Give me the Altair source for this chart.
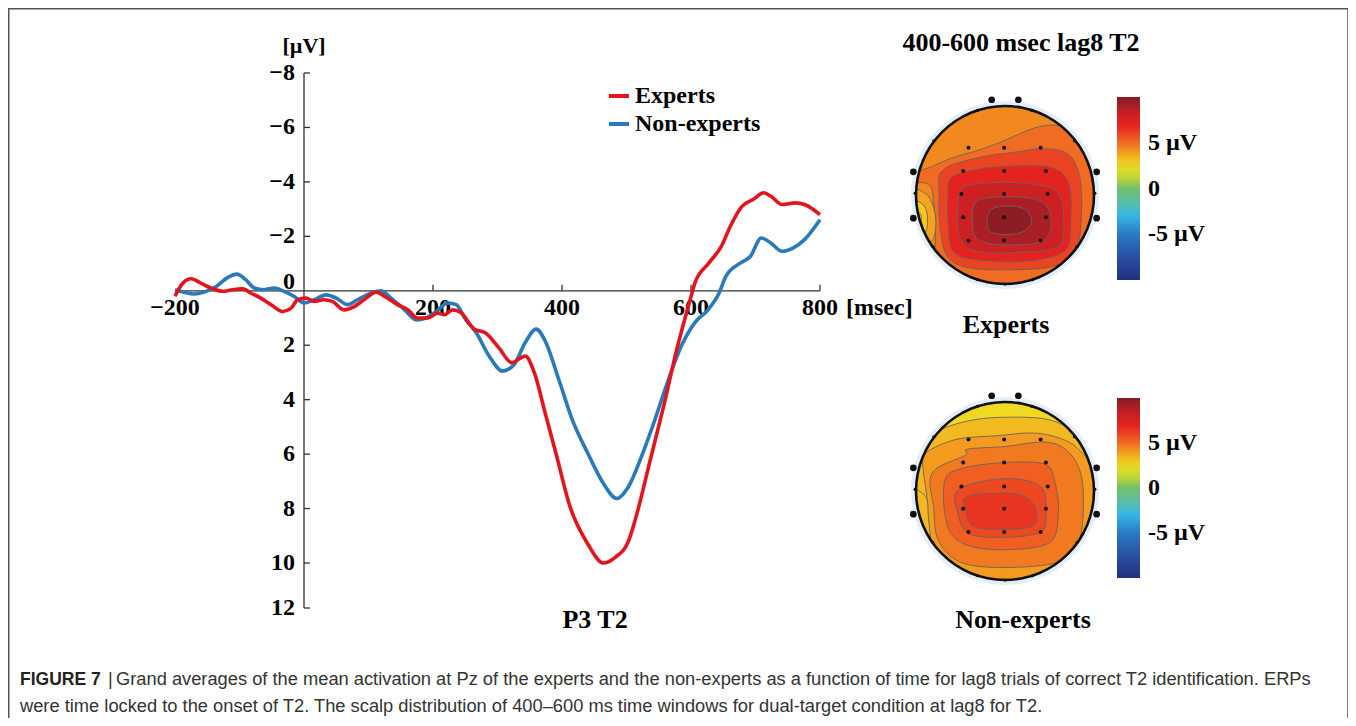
import altair as alt
import numpy as np
import pandas as pd

# ---------------- ERP data ----------------
red_t = [-200, -188, -175, -160, -144, -126, -111, -95, -82, -67, -51, -33, -20, -10, 3, 16, 31, 44, 62, 78,
         93, 112, 125, 145, 161, 176, 192, 207, 218, 230, 243, 264, 281, 302, 322, 343, 357, 374, 392, 412,
         440, 464, 482, 503, 516, 537, 558, 578, 599, 606, 627, 647, 661, 679, 696, 713, 724, 741, 762, 776, 800]
red_v = [0.2, -0.28, -0.44, -0.28, -0.1, 0.02, -0.04, -0.07, 0.09, 0.27, 0.51, 0.76, 0.64, 0.33, 0.27, 0.39,
         0.33, 0.39, 0.7, 0.58, 0.33, 0.05, 0.21, 0.51, 0.7, 1.0, 1.0, 0.82, 0.88, 0.7, 0.8, 1.41, 1.54, 2.09,
         2.64, 2.4, 3.0, 4.5, 6.1, 7.9, 9.3, 10.0, 9.8, 9.2, 8.2, 6.2, 4.2, 2.15, 0.3, -0.28, -1.0, -1.63,
         -2.37, -3.1, -3.35, -3.6, -3.47, -3.17, -3.23, -3.17, -2.8]
blue_t = [-200, -186, -170, -155, -136, -118, -104, -90, -77, -62, -46, -31, -15, 0, 16, 34, 50, 68, 83, 104,
          119, 135, 156, 174, 189, 205, 223, 236, 251, 267, 287, 308, 326, 343, 360, 374, 395, 416, 440, 464,
          485, 503, 523, 544, 565, 585, 606, 627, 644, 654, 675, 692, 709, 724, 741, 758, 776, 800]
blue_v = [-0.04, 0.05, 0.12, 0.05, -0.16, -0.49, -0.61, -0.4, -0.1, -0.04, -0.1, 0.02, 0.21, 0.45, 0.33, 0.15,
          0.27, 0.51, 0.33, 0.09, 0.0, 0.27, 0.7, 1.07, 1.0, 0.76, 0.45, 0.51, 1.07, 1.54, 2.4, 2.95, 2.7, 1.9,
          1.41, 1.85, 3.26, 4.74, 5.97, 7.07, 7.63, 7.2, 6.1, 4.74, 3.26, 2.03, 1.17, 0.68, 0.06, -0.53, -1.0,
          -1.26, -1.94, -1.75, -1.45, -1.57, -1.88, -2.61]

series_names = ["Experts", "Non-experts"]
series_colors = ["#e3141c", "#2a7ab9"]

x_extent = [-200, 800]
y_extent = [-8, 12]
y_ticks = [-8, -6, -4, -2, 2, 4, 6, 8, 10, 12]
y_tick_labels = ["\u22128", "\u22126", "\u22124", "\u22122", "2", "4", "6", "8", "10", "12"]
x_ticks = [-200, 200, 400, 600, 800]
x_tick_labels = ["\u2212200", "200", "400", "600", "800"]

# ---------------- Topomap data: contour bands (µV level, outline in head units) ----------------
exp_base = 4.4
exp_band_vals = [5.0, 6.0, 7.0, 8.0, 9.0, 9.7, 3.8, 3.0, 2.3]
exp_band_rings = [
    [[-1.15, 0.3], [-0.94, 0.28], [-0.61, 0.41], [-0.31, 0.5], [-0.06, 0.59], [0.17, 0.69], [0.39, 0.77],
     [0.61, 0.78], [0.83, 0.7], [0.96, 0.61], [1.1, 0.55], [1.15, 0.1], [1.05, -0.5], [0.75, -0.9],
     [0.3, -1.12], [-0.3, -1.12], [-0.68, -0.9], [-0.78, -0.72], [-0.78, -0.4], [-0.8, -0.1],
     [-0.86, 0.12], [-1.15, 0.15]],
    [[-0.7, 0.28], [-0.3, 0.42], [0.1, 0.48], [0.45, 0.52], [0.72, 0.45], [0.84, 0.2], [0.86, -0.2],
     [0.8, -0.6], [0.55, -0.8], [0.0, -0.84], [-0.45, -0.81], [-0.66, -0.67], [-0.73, -0.35], [-0.74, 0.0]],
    [[-0.6, 0.2], [-0.25, 0.3], [0.2, 0.33], [0.55, 0.3], [0.72, 0.12], [0.74, -0.3], [0.68, -0.62],
     [0.3, -0.74], [-0.2, -0.74], [-0.57, -0.65], [-0.64, -0.3], [-0.64, 0.0]],
    [[-0.47, 0.08], [-0.1, 0.14], [0.32, 0.12], [0.6, 0.02], [0.66, -0.3], [0.6, -0.58], [0.2, -0.64],
     [-0.28, -0.64], [-0.5, -0.5], [-0.53, -0.18]],
    [[-0.3, -0.06], [0.1, -0.02], [0.42, -0.08], [0.52, -0.3], [0.42, -0.52], [0.0, -0.56], [-0.3, -0.5],
     [-0.37, -0.28]],
    [[-0.15, -0.16], [0.18, -0.14], [0.3, -0.3], [0.15, -0.43], [-0.17, -0.41]],
    [[-1.15, 0.05], [-0.9, 0.02], [-0.8, -0.15], [-0.78, -0.38], [-0.86, -0.55], [-1.15, -0.6]],
    [[-1.15, -0.06], [-0.93, -0.1], [-0.87, -0.27], [-0.92, -0.45], [-1.15, -0.48]],
    [[-1.15, -0.15], [-0.97, -0.19], [-0.94, -0.29], [-0.98, -0.39], [-1.15, -0.4]],
]
non_base = 2.6
non_band_vals = [3.3, 4.0, 4.7, 5.3, 5.9, 6.5, 3.3]
non_band_rings = [
    [[-1.15, 0.45], [-0.75, 0.68], [-0.35, 0.8], [0.1, 0.83], [0.5, 0.8], [0.8, 0.66], [1.15, 0.45],
     [1.15, -0.3], [0.85, -0.85], [0.3, -1.12], [-0.3, -1.12], [-0.85, -0.85], [-1.15, -0.3]],
    [[-0.9, 0.42], [-0.55, 0.58], [-0.1, 0.62], [0.35, 0.65], [0.72, 0.55], [0.95, 0.35], [1.15, 0.25],
     [1.15, -0.3], [0.85, -0.85], [0.3, -1.12], [-0.3, -1.12], [-0.72, -0.9], [-0.84, -0.55],
     [-0.88, -0.05], [-0.92, 0.25]],
    [[-0.82, 0.2], [-0.45, 0.4], [-0.42, 0.47], [0.0, 0.5], [0.45, 0.55], [0.7, 0.45], [0.85, 0.2],
     [0.88, -0.2], [0.82, -0.6], [0.6, -0.8], [0.0, -0.86], [-0.5, -0.8], [-0.75, -0.55], [-0.8, -0.2]],
    [[-0.68, 0.1], [-0.5, 0.25], [0.0, 0.32], [0.45, 0.3], [0.56, 0.1], [0.6, -0.25], [0.5, -0.58],
     [0.0, -0.66], [-0.45, -0.6], [-0.65, -0.38]],
    [[-0.52, 0.02], [0.0, 0.14], [0.4, 0.05], [0.46, -0.25], [0.4, -0.46], [0.0, -0.52], [-0.4, -0.48],
     [-0.53, -0.25]],
    [[-0.42, -0.06], [0.1, -0.03], [0.32, -0.15], [0.33, -0.38], [0.0, -0.43], [-0.35, -0.4],
     [-0.44, -0.22]],
    [[-1.15, 0.0], [-0.9, -0.05], [-0.86, -0.3], [-0.82, -0.6], [-0.7, -0.88], [-0.85, -0.85]],
]

elec_u = [-0.41, -0.01, 0.40, -0.47, -0.01, 0.46, -0.49, -0.01, 0.48, -0.47, -0.01, 0.46, -0.41, -0.01, 0.40]
exp_elec_w = [0.53, 0.53, 0.53, 0.27, 0.27, 0.27, 0.01, 0.01, 0.01, -0.25, -0.25, -0.25, -0.51, -0.51, -0.51]
non_elec_w = [0.58, 0.58, 0.58, 0.32, 0.32, 0.32, 0.05, 0.05, 0.05, -0.20, -0.20, -0.20, -0.46, -0.46, -0.46]
rim_u = [-0.31, 0.30, -0.80, 0.78, -1.01, 1.01, -0.81, 0.81, -0.31, 0.0, 0.31]
rim_w = [0.95, 0.95, 0.61, 0.61, 0.02, 0.02, -0.58, -0.58, -0.95, -1.0, -0.95]
bump_u = [-0.15, 0.15, -1.03, -1.03, 1.03, 1.03]
bump_w = [1.07, 1.07, 0.26, -0.26, 0.26, -0.26]

cbar_domain = [-10, -7.5, -5, -3, -1.5, 0, 1, 2.5, 4, 5.5, 7, 8.5, 10]
cbar_colors = ["#223080", "#2a4fa0", "#2a7ac5", "#35b5e5", "#5cbfa5", "#71c06b", "#b5d33c",
               "#f0df21", "#f39a1f", "#ef5523", "#e42320", "#c21f25", "#7f1d24"]
cbar_ticks = [-5, 0, 5]

title_text = "400-600 msec lag8 T2"
panel_exp = "Experts"
panel_non = "Non-experts"
erp_title = "P3 T2"
y_unit = "[\u00b5V]"
x_unit = "[msec]"
cap_bold = "FIGURE 7"
cap_sep = "|"
cap_line1 = ("Grand averages of the mean activation at Pz of the experts and the non-experts as a function "
             "of time for lag8 trials of correct T2 identification. ERPs")
cap_line2 = ("were time locked to the onset of T2. The scalp distribution of 400\u2013600 ms time windows "
             "for dual-target condition at lag8 for T2.")

SERIF = "Liberation Serif"
SANS = "Liberation Sans"

# ---------------- ERP panel ----------------
X_ERP = alt.Scale(domain=[-200, 800], range=[167, 812])
Y_ERP = alt.Scale(domain=[-8, 10, 12], range=[65, 555, 600])


def ex(f):
    return alt.X(f, scale=X_ERP, axis=None)


def ey(f):
    return alt.Y(f, scale=Y_ERP, axis=None)


erp_legend = alt.Legend(orient="none", legendX=599, legendY=76, title=None, symbolType="stroke",
                        symbolSize=400, symbolStrokeWidth=4, labelFont=SERIF, labelFontSize=24,
                        labelFontWeight="bold", labelColor="black", rowPadding=4, labelOffset=4,
                        padding=0)
erp_color = alt.Color("series:N", scale=alt.Scale(domain=series_names, range=series_colors),
                      legend=erp_legend)

x_axis = alt.Chart(pd.DataFrame({"t": [x_extent[0]], "t2": [x_extent[1]], "v": [0]})).mark_rule(
    color="#333", strokeWidth=1.3).encode(x=ex("t:Q"), x2="t2:Q", y=ey("v:Q"))
y_axis = alt.Chart(pd.DataFrame({"t": [0], "v": [y_extent[0]], "v2": [y_extent[1]]})).mark_rule(
    color="#333", strokeWidth=1.3).encode(x=ex("t:Q"), y=ey("v:Q"), y2="v2:Q")

ytick_df = pd.DataFrame({"t": 0, "v": y_ticks, "label": y_tick_labels})
xtick_df = pd.DataFrame({"t": x_ticks, "v": 0, "label": x_tick_labels})

y_tickmarks = alt.Chart(pd.DataFrame({"t": 0, "v": y_ticks})).mark_point(
    shape="M0,0H1", size=144, color="#333", strokeWidth=1.3, opacity=1).encode(x=ex("t:Q"), y=ey("v:Q"))
x_tickmarks = alt.Chart(pd.DataFrame({"t": x_ticks[1:], "v": 0})).mark_point(
    shape="M0,0V-1", size=144, color="#333", strokeWidth=1.3, opacity=1).encode(x=ex("t:Q"), y=ey("v:Q"))

txt = dict(font=SERIF, fontWeight="bold", color="black")
y_labels = alt.Chart(ytick_df).mark_text(align="right", baseline="middle", dx=-9, fontSize=24, **txt).encode(
    x=ex("t:Q"), y=ey("v:Q"), text="label:N")
zero_label = alt.Chart(pd.DataFrame({"t": [0], "v": [0], "label": ["0"]})).mark_text(
    align="right", baseline="middle", dx=-9, dy=-9, fontSize=24, **txt).encode(
    x=ex("t:Q"), y=ey("v:Q"), text="label:N")
x_labels = alt.Chart(xtick_df).mark_text(align="center", baseline="middle", dy=17, fontSize=24, **txt).encode(
    x=ex("t:Q"), y=ey("v:Q"), text="label:N")
x_unit_label = alt.Chart(pd.DataFrame({"t": [x_extent[1]], "v": [0], "label": [x_unit]})).mark_text(
    align="left", baseline="middle", dx=26, dy=17, fontSize=24, **txt).encode(
    x=ex("t:Q"), y=ey("v:Q"), text="label:N")
y_unit_label = alt.Chart(pd.DataFrame({"t": [0], "v": [y_extent[0]], "label": [y_unit]})).mark_text(
    align="center", baseline="middle", dy=-27, fontSize=22, **txt).encode(
    x=ex("t:Q"), y=ey("v:Q"), text="label:N")

blue_line = alt.Chart(pd.DataFrame({"t": blue_t, "v": blue_v, "series": series_names[1]})).mark_line(
    strokeWidth=3.6, interpolate="monotone").encode(x=ex("t:Q"), y=ey("v:Q"), color=erp_color)
red_line = alt.Chart(pd.DataFrame({"t": red_t, "v": red_v, "series": series_names[0]})).mark_line(
    strokeWidth=3.6, interpolate="monotone").encode(x=ex("t:Q"), y=ey("v:Q"), color=erp_color)

erp = alt.layer(x_axis, y_axis, y_tickmarks, x_tickmarks, y_labels, zero_label, x_labels, x_unit_label,
                y_unit_label, blue_line, red_line)

# ---------------- Topomaps ----------------
R_HEAD = 89
CX_HEAD = 997


def topomap(base_val, band_vals, band_rings, elec_w, cy, leg_y, leg_len):
    r, cx = R_HEAD, CX_HEAD
    XS = alt.Scale(domain=[-1, 1], range=[cx - r, cx + r])
    YS = alt.Scale(domain=[-1, 1], range=[cy + r, cy - r])
    fscale = alt.Scale(domain=cbar_domain, range=cbar_colors, interpolate="rgb")
    leg = alt.Legend(orient="none", legendX=1109, legendY=leg_y, title=None, direction="vertical",
                     gradientLength=leg_len, gradientThickness=23, gradientStrokeWidth=0,
                     values=cbar_ticks, labelExpr="datum.value == 0 ? '0' : datum.value + ' \u00b5V'",
                     labelFont=SERIF, labelFontSize=24, labelFontWeight="bold", labelColor="black",
                     labelOffset=8, labelOverlap=False, padding=0)

    def xy(chart):
        return chart.encode(x=alt.X("u:Q", scale=XS, axis=None), y=alt.Y("w:Q", scale=YS, axis=None))

    # faint halo around the head
    layers = [xy(alt.Chart(pd.DataFrame({"u": [0], "w": [0]})).mark_arc(
        innerRadius=r, outerRadius=r + 5, theta=0, theta2=6.2832, color="#dbe9f6"))]
    layers.append(xy(alt.Chart(pd.DataFrame({"u": [0], "w": [0], "val": [base_val]})).mark_arc(
        outerRadius=r + 2, theta=0, theta2=6.2832)).encode(fill=alt.Fill("val:Q", scale=fscale, legend=leg)))

    for v, ring in zip(band_vals, band_rings):
        band_df = pd.DataFrame({"u": [p[0] for p in ring], "w": [p[1] for p in ring],
                                "idx": list(range(len(ring))), "val": v})
        layers.append(xy(alt.Chart(band_df).mark_line(
            interpolate="cardinal-closed", stroke="#6e625c", strokeWidth=0.9)).encode(
            fill=alt.Fill("val:Q", scale=fscale, legend=leg), order="idx:Q"))

    centre = pd.DataFrame({"u": [0], "w": [0]})
    layers.append(xy(alt.Chart(centre).mark_arc(innerRadius=r, outerRadius=r + 30, theta=0, theta2=6.2832,
                                                color="white")))
    layers.append(xy(alt.Chart(centre).mark_arc(innerRadius=r + 1, outerRadius=r + 5, theta=0,
                                                theta2=6.2832, color="#e3eef8")))
    layers.append(xy(alt.Chart(centre).mark_arc(innerRadius=r - 1.3, outerRadius=r + 1.3, theta=0,
                                                theta2=6.2832, color="#111")))
    layers.append(xy(alt.Chart(pd.DataFrame({"u": rim_u, "w": rim_w})).mark_circle(
        size=10, color="#111", opacity=1)))
    layers.append(xy(alt.Chart(pd.DataFrame({"u": bump_u, "w": bump_w})).mark_circle(
        size=45, color="#111", opacity=1)))
    layers.append(xy(alt.Chart(pd.DataFrame({"u": elec_u, "w": elec_w})).mark_circle(
        size=16, color="#111", opacity=1)))
    return alt.layer(*layers)


topo_exp = topomap(exp_base, exp_band_vals, exp_band_rings, exp_elec_w, 187, 89, 183)
topo_non = topomap(non_base, non_band_vals, non_band_rings, non_elec_w, 483, 390, 180)


# ---------------- Free text & frame ----------------
def label(text, x, y, size, font=SERIF, weight="bold", align="center", color="black"):
    return alt.Chart(pd.DataFrame({"label": [text]})).mark_text(
        font=font, fontSize=size, fontWeight=weight, align=align, baseline="middle", color=color).encode(
        x=alt.value(x), y=alt.value(y), text="label:N")


frame = alt.Chart(pd.DataFrame({"k": [0]})).mark_rect(
    fillOpacity=0, stroke="#555", strokeWidth=1.5).encode(
    x=alt.value(0.75), x2=alt.value(1340), y=alt.value(0.75), y2=alt.value(740))

texts = [
    label(title_text, 1013, 35, 26),
    label(panel_exp, 998, 317, 26),
    label(panel_non, 1015, 612, 26),
    label(erp_title, 587, 612, 26),
    label(cap_bold, 12, 672, 17.5, font=SANS, weight="bold", align="left", color="#222"),
    label(cap_sep, 100, 672, 18.3, font=SANS, weight="normal", align="left", color="#333"),
    label(cap_line1, 108, 672, 18.3, font=SANS, weight="normal", align="left", color="#333"),
    label(cap_line2, 12, 699, 18.3, font=SANS, weight="normal", align="left", color="#333"),
]

chart = alt.layer(frame, topo_exp, topo_non, erp, *texts).resolve_scale(
    x="independent", y="independent", color="independent", fill="independent"
).properties(
    width=1340, height=710, autosize=alt.AutoSizeParams(type="none"), padding=0, background="white"
).configure_view(strokeWidth=0)

chart.save("out.html", embed_options={"renderer": "svg", "actions": False})
